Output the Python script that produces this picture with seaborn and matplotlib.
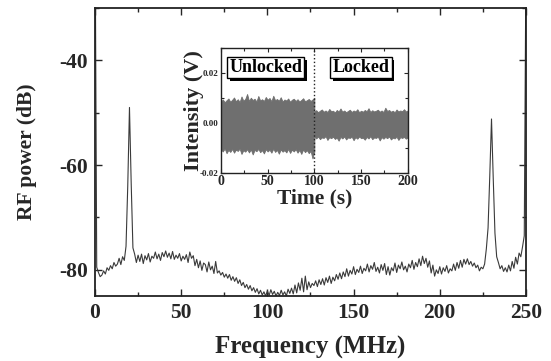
import numpy as np
import pandas as pd
import matplotlib
matplotlib.use("Agg")
import matplotlib.pyplot as plt
import matplotlib.patheffects as pe
from matplotlib.ticker import MultipleLocator
import seaborn as sns

# ---------------- data ----------------
freq_mhz = np.arange(0, 251)  # 1 MHz grid
rf_power_db = [
    -10.0, -79.5, -80.5, -81.3, -81.0, -80.2, -80.8, -79.6, -80.1, -79.2,
    -79.8, -78.6, -79.3, -78.9, -77.8, -79.0, -77.5, -78.2, -75.5, -64.0,
    -49.0, -63.5, -75.8, -77.0, -78.6, -77.2, -78.4, -77.0, -78.8, -77.3,
    -78.1, -76.9, -78.5, -77.4, -77.8, -76.6, -77.9, -77.0, -78.2, -76.7,
    -77.5, -76.4, -77.6, -76.8, -77.9, -76.5, -78.0, -77.2, -77.8, -76.9,
    -78.3, -77.4, -78.0, -77.1, -78.6, -76.6, -77.8, -77.3, -79.2, -78.0,
    -79.6, -78.3, -80.1, -78.7, -79.0, -80.4, -78.5, -80.0, -79.3, -80.7,
    -78.4, -80.6, -80.2, -81.0, -80.5, -81.4, -80.8, -81.6, -80.9, -82.0,
    -81.3, -82.2, -81.5, -82.6, -81.9, -83.0, -82.4, -83.4, -82.8, -83.7,
    -83.0, -84.0, -83.4, -84.3, -83.6, -84.6, -83.9, -84.8, -84.2, -85.0,
    -84.0, -84.9, -83.8, -84.7, -84.1, -85.0, -84.3, -84.9, -83.9, -84.8,
    -84.2, -85.0, -83.7, -84.5, -83.5, -84.6, -82.9, -84.4, -82.5, -83.9,
    -81.6, -84.2, -81.2, -83.8, -82.3, -83.4, -82.6, -83.0, -82.1, -83.2,
    -81.9, -82.8, -81.7, -82.9, -81.5, -82.4, -81.2, -82.6, -81.4, -82.1,
    -80.9, -81.8, -80.6, -81.7, -80.4, -81.3, -79.8, -81.2, -80.1, -80.8,
    -79.4, -80.9, -79.9, -80.5, -79.3, -80.7, -79.7, -80.2, -78.9, -80.4,
    -79.2, -79.9, -78.6, -80.3, -79.5, -80.6, -79.0, -80.1, -78.8, -80.9,
    -79.4, -81.0, -79.6, -80.2, -78.7, -80.5, -79.1, -79.8, -78.5, -80.0,
    -79.3, -80.4, -78.9, -79.6, -78.2, -79.9, -78.6, -79.4, -77.9, -79.2,
    -77.4, -78.8, -77.8, -79.5, -78.3, -80.6, -79.1, -81.2, -80.0, -80.7,
    -79.4, -80.8, -79.6, -80.3, -79.2, -80.6, -79.8, -80.2, -78.9, -80.1,
    -78.6, -79.7, -78.2, -79.5, -78.0, -78.9, -77.9, -79.0, -78.4, -79.3,
    -78.7, -79.6, -79.1, -80.2, -79.5, -79.8, -78.9, -76.0, -72.0, -62.0,
    -51.2, -62.5, -73.0, -77.5, -78.6, -79.8, -79.2, -80.3, -79.6, -80.4,
    -79.1, -80.2, -78.4, -79.7, -77.6, -78.9, -76.8, -77.5, -75.6, -73.5,
    -20.0,
]

t_unlocked = np.arange(0, 101, 2)
t_locked = np.arange(100, 201, 2)
# envelope of the intensity trace, in mV
unlocked_upper_mv = [
    8.6, 9.4, 8.3, 9.1, 9.8, 8.5, 9.3, 10.2, 8.7, 9.5,
    8.4, 10.6, 8.9, 9.6, 11.6, 8.8, 10.1, 9.2, 9.7, 8.6,
    10.8, 9.0, 9.5, 8.8, 10.4, 9.3, 10.0, 8.7, 10.9, 9.1,
    9.6, 8.9, 10.3, 8.6, 9.4, 9.0, 9.8, 8.5, 9.3, 9.7,
    8.8, 9.5, 8.6, 9.2, 9.9, 8.7, 9.1, 9.6, 8.8, 9.4,
    10.1,
]
unlocked_lower_mv = [
    -10.6, -11.4, -10.2, -12.1, -10.8, -11.6, -10.4, -11.9, -10.7, -11.2,
    -10.3, -12.4, -10.9, -11.5, -10.5, -11.8, -10.6, -12.6, -10.8, -11.3,
    -10.4, -11.7, -10.9, -12.2, -10.5, -11.4, -10.7, -11.9, -10.3, -11.6,
    -10.8, -12.3, -10.6, -11.5, -10.9, -11.8, -10.4, -12.0, -10.7, -11.4,
    -10.5, -11.9, -10.8, -12.4, -10.6, -11.7, -10.9, -12.1, -11.2, -14.2,
    -11.5,
]
locked_upper_mv = [
    4.6, 5.1, 4.3, 4.9, 5.4, 4.5, 5.0, 4.4, 5.6, 4.7,
    4.9, 4.2, 5.2, 4.6, 5.8, 4.5, 5.0, 4.3, 4.8, 5.3,
    4.4, 5.0, 4.6, 5.5, 4.3, 4.9, 4.5, 5.2, 4.7, 5.9,
    4.4, 5.1, 4.6, 4.9, 5.3, 4.5, 5.0, 4.4, 6.1, 4.8,
    5.2, 4.5, 4.9, 4.3, 5.4, 4.6, 5.0, 4.7, 5.5, 4.6,
    5.0,
]
locked_lower_mv = [
    -5.6, -6.2, -5.4, -6.5, -5.8, -6.0, -5.3, -6.8, -5.7, -6.1,
    -5.5, -6.4, -5.9, -7.1, -5.6, -6.2, -5.4, -6.6, -5.8, -6.0,
    -5.5, -6.9, -5.7, -6.3, -5.4, -6.1, -5.9, -6.7, -5.6, -6.2,
    -5.3, -6.5, -5.8, -6.0, -5.5, -7.0, -5.7, -6.3, -5.6, -6.1,
    -5.4, -6.6, -5.9, -6.2, -5.5, -6.8, -5.7, -6.0, -5.6, -6.3,
    -5.8,
]
inset_labels = ["Unlocked", "Locked"]
inset_label_t = [48, 150]

# ---------------- style ----------------
sns.set_style("ticks")
plt.rcParams["font.family"] = ["Liberation Serif", "DejaVu Serif"]
plt.rcParams["font.weight"] = "bold"
plt.rcParams["axes.labelweight"] = "bold"
plt.rcParams["axes.unicode_minus"] = False

fig = plt.figure(figsize=(5.51, 3.61), dpi=100)
ax = fig.add_axes([0.1724, 0.180, 0.7822, 0.798])

df = pd.DataFrame({"f": freq_mhz, "p": rf_power_db})
sns.lineplot(data=df, x="f", y="p", ax=ax, color="#3a3a3a", linewidth=0.8)
ax.set_xlim(0, 250)
ax.set_ylim(-85, -30)
ax.xaxis.set_major_locator(MultipleLocator(50))
ax.xaxis.set_minor_locator(MultipleLocator(25))
ax.set_yticks([-80, -60, -40])
ax.yaxis.set_minor_locator(MultipleLocator(10))
ax.tick_params(which="both", direction="in", top=True, right=True, width=1.0)
ax.tick_params(which="major", length=5, labelsize=15.5, pad=5)
ax.tick_params(which="minor", length=3)
for lab in ax.get_xticklabels() + ax.get_yticklabels():
    lab.set_fontweight("bold")
for s in ax.spines.values():
    s.set_linewidth(1.3)
    s.set_color("#222222")
ax.set_xlabel("Frequency (MHz)", fontsize=18, fontweight="bold", labelpad=9)
ax.set_ylabel("RF power (dB)", fontsize=15.5, fontweight="bold", labelpad=16)

# ---------------- inset ----------------
ins = fig.add_axes([0.401, 0.521, 0.339, 0.346])
band = "#6f6f6f"
ins.fill_between(t_unlocked, np.array(unlocked_lower_mv) * 1e-3,
                 np.array(unlocked_upper_mv) * 1e-3, color=band, linewidth=0.6,
                 edgecolor=band)
ins.fill_between(t_locked, np.array(locked_lower_mv) * 1e-3,
                 np.array(locked_upper_mv) * 1e-3, color=band, linewidth=0.6,
                 edgecolor=band)
ins.axvline(100, color="#222222", linestyle=":", linewidth=1.0)
ins.set_xlim(0, 200)
ins.set_ylim(-0.02, 0.03)
ins.set_xticks([0, 50, 100, 150, 200])
ins.xaxis.set_minor_locator(MultipleLocator(25))
ins.set_yticks([-0.02, 0.00, 0.02])
ins.set_yticklabels(["-0.02", "0.00", "0.02"])
ins.yaxis.set_minor_locator(MultipleLocator(0.01))
ins.tick_params(which="both", direction="in", top=True, right=True, width=0.8)
ins.tick_params(which="major", length=3, pad=1.5)
ins.tick_params(which="minor", length=2)
ins.tick_params(axis="x", labelsize=10)
ins.tick_params(axis="y", labelsize=6.5)
for lab in ins.get_xticklabels() + ins.get_yticklabels():
    lab.set_fontweight("bold")
for s in ins.spines.values():
    s.set_linewidth(1.0)
    s.set_color("#222222")
ins.set_xlabel("Time (s)", fontsize=15.5, fontweight="bold", labelpad=0)
ins.set_ylabel("Intensity (V)", fontsize=16, fontweight="bold", labelpad=-3)

for lab, tx in zip(inset_labels, inset_label_t):
    t = ins.text(tx, 0.0222, lab, ha="center", va="center", fontsize=13,
                 fontweight="bold", color="black",
                 bbox=dict(boxstyle="square,pad=0.12", facecolor="white",
                           edgecolor="black", linewidth=1.0))
    t.get_bbox_patch().set_path_effects([
        pe.SimplePatchShadow(offset=(2, -2), shadow_rgbFace="black", alpha=1.0),
        pe.Normal(),
    ])

fig.savefig("out.png", dpi=100)
